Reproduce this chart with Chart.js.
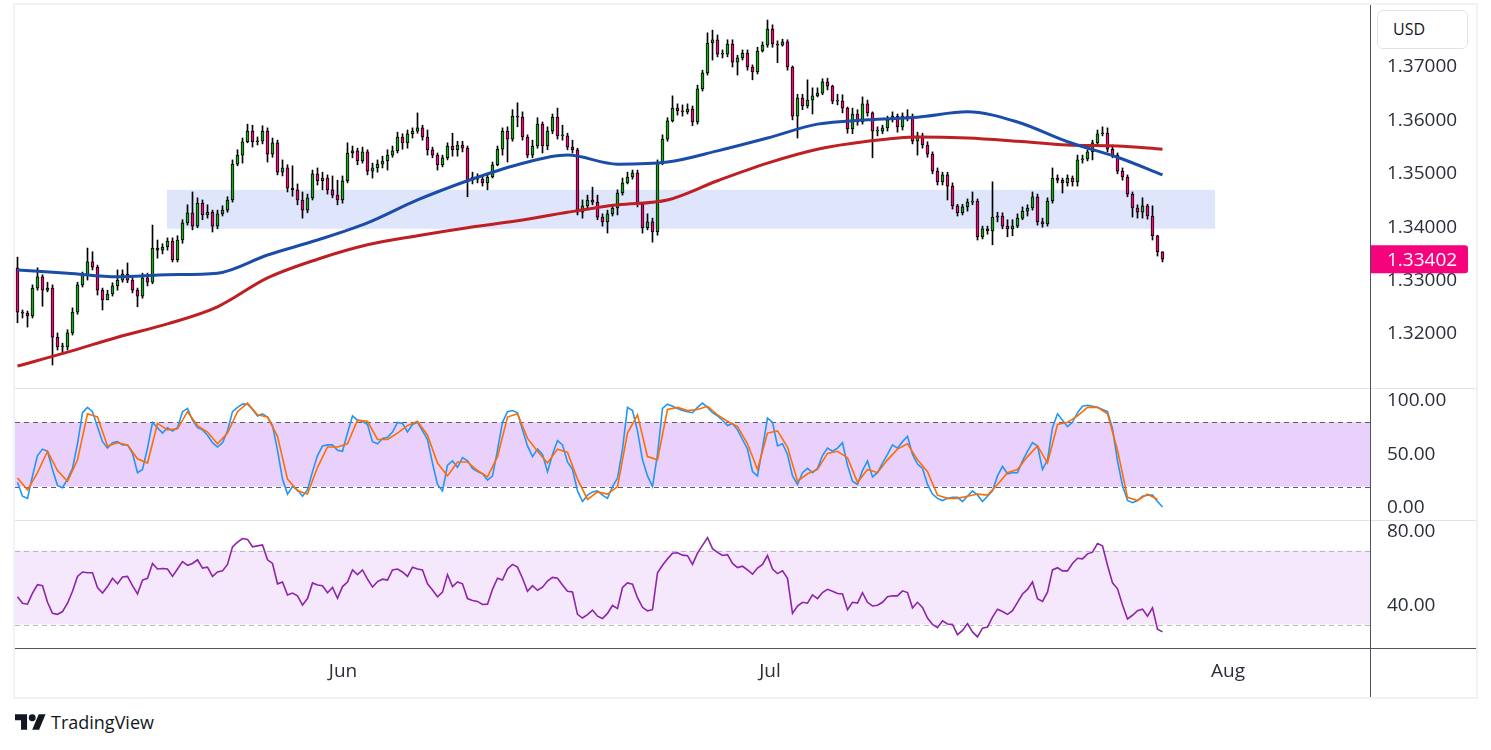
<!DOCTYPE html>
<html>
<head>
<meta charset="utf-8">
<title>GBPUSD 4H</title>
<script src="https://cdn.jsdelivr.net/npm/chart.js@4.4.1/dist/chart.umd.min.js"></script>
<style>
  html, body { margin: 0; padding: 0; background: #ffffff; }
  body { position: relative; width: 1491px; height: 750px; overflow: hidden; font-family: "Open Sans", sans-serif; color: #131722; }
  .frame { position: absolute; left: 13px; top: 3px; width: 1465px; height: 696px; border: 2px solid #f0f2f5; box-sizing: border-box; }
  .pane { position: absolute; left: 15px; width: 1461px; }
  .line { position: absolute; }
  #usd { position: absolute; left: 1377px; top: 10px; width: 91px; height: 39px; box-sizing: border-box; border: 1px solid #e0e3eb; border-radius: 6px; font-size: 16px; line-height: 37px; padding-left: 15px; background: #fff; }
  #brand { position: absolute; left: 15px; top: 709px; display: flex; align-items: center; gap: 5px; font-size: 18px; line-height: 26px; }
</style>
</head>
<body>
<div class="frame"></div>
<div class="pane" style="top:5px;height:383px"><canvas id="price"></canvas></div>
<div class="pane" style="top:388px;height:132px"><canvas id="stoch"></canvas></div>
<div class="pane" style="top:520px;height:177px"><canvas id="rsi"></canvas></div>
<div class="line" style="left:15px;top:388px;width:1461px;height:1px;background:#e0e3eb"></div>
<div class="line" style="left:15px;top:520px;width:1461px;height:1px;background:#e0e3eb"></div>
<div class="line" style="left:15px;top:648px;width:1461px;height:1px;background:#50535e"></div>
<div class="line" style="left:1370px;top:5px;width:1px;height:692px;background:#50535e"></div>
<div id="usd">USD</div>
<div id="brand">
  <svg width="31" height="16" viewBox="0 4 36 18"><path d="M14 22H7V11H0V4h14v18z" fill="#131722"/><circle cx="20" cy="8" r="4" fill="#131722"/><path d="M28 22h-8l7.5-18h8L28 22z" fill="#131722"/></svg>
  <span>TradingView</span>
</div>
<script>
// GBPUSD, one bar per ~5px
const firstOpen = 1.3324;
const closes = [
  1.3241,1.3239,1.3234,1.3286,1.3307,1.3282,1.3286,1.3194,1.3176,1.3176,
  1.3202,1.3241,1.3292,1.3311,1.3335,1.3325,1.3282,1.3264,1.3275,1.3290,
  1.3301,1.3312,1.3301,1.3282,1.3271,1.3305,1.3297,1.3361,1.3357,1.3363,
  1.3374,1.3339,1.3376,1.3408,1.3427,1.3402,1.3445,1.3423,1.3428,1.3402,
  1.3425,1.3432,1.3451,1.3518,1.3535,1.3560,1.3580,1.3560,1.3561,1.3580,
  1.3537,1.3558,1.3503,1.3511,1.3473,1.3470,1.3451,1.3432,1.3455,1.3500,
  1.3487,1.3492,1.3470,1.3460,1.3451,1.3487,1.3539,1.3543,1.3524,1.3541,
  1.3505,1.3511,1.3518,1.3524,1.3535,1.3543,1.3569,1.3558,1.3575,1.3580,
  1.3586,1.3569,1.3545,1.3535,1.3517,1.3530,1.3552,1.3545,1.3554,1.3548,
  1.3488,1.3494,1.3490,1.3483,1.3494,1.3517,1.3546,1.3580,1.3565,1.3608,
  1.3606,1.3569,1.3535,1.3552,1.3593,1.3552,1.3580,1.3606,1.3571,1.3571,
  1.3550,1.3545,1.3428,1.3440,1.3451,1.3447,1.3419,1.3410,1.3425,1.3436,
  1.3464,1.3483,1.3494,1.3502,1.3443,1.3399,1.3410,1.3391,1.3520,1.3565,
  1.3599,1.3623,1.3618,1.3616,1.3621,1.3597,1.3659,1.3689,1.3745,1.3751,
  1.3724,1.3724,1.3743,1.3709,1.3717,1.3726,1.3700,1.3691,1.3730,1.3741,
  1.3771,1.3743,1.3741,1.3747,1.3700,1.3608,1.3642,1.3627,1.3638,1.3646,
  1.3651,1.3672,1.3664,1.3636,1.3636,1.3623,1.3584,1.3612,1.3597,1.3631,
  1.3614,1.3580,1.3580,1.3586,1.3601,1.3608,1.3588,1.3608,1.3606,1.3561,
  1.3571,1.3554,1.3537,1.3505,1.3485,1.3498,1.3477,1.3440,1.3427,1.3438,
  1.3447,1.3449,1.3382,1.3397,1.3393,1.3419,1.3421,1.3402,1.3397,1.3402,
  1.3417,1.3430,1.3436,1.3457,1.3410,1.3406,1.3449,1.3492,1.3488,1.3483,
  1.3492,1.3485,1.3526,1.3528,1.3541,1.3558,1.3575,1.3576,1.3546,1.3535,
  1.3505,1.3494,1.3462,1.3436,1.3428,1.3440,1.3421,1.3384,1.3354,1.33402
];
const highs = [
  1.3344,1.3245,1.3243,1.3292,1.3324,1.3311,1.3297,1.3292,1.3202,1.3183,
  1.3208,1.3249,1.3297,1.3316,1.3361,1.3354,1.3329,1.3286,1.3282,1.3296,
  1.3320,1.3320,1.3333,1.3305,1.3286,1.3314,1.3314,1.3404,1.3376,1.3369,
  1.3380,1.3380,1.3384,1.3414,1.3442,1.3466,1.3455,1.3451,1.3442,1.3432,
  1.3432,1.3440,1.3457,1.3526,1.3545,1.3567,1.3593,1.3591,1.3569,1.3590,
  1.3586,1.3567,1.3563,1.3526,1.3517,1.3515,1.3481,1.3466,1.3462,1.3507,
  1.3511,1.3503,1.3498,1.3496,1.3488,1.3496,1.3558,1.3552,1.3548,1.3550,
  1.3545,1.3520,1.3526,1.3533,1.3545,1.3552,1.3578,1.3575,1.3582,1.3586,
  1.3614,1.3591,1.3582,1.3550,1.3539,1.3535,1.3558,1.3576,1.3561,1.3561,
  1.3552,1.3503,1.3500,1.3496,1.3500,1.3522,1.3552,1.3586,1.3588,1.3620,
  1.3633,1.3616,1.3573,1.3563,1.3605,1.3597,1.3588,1.3612,1.3623,1.3591,
  1.3576,1.3563,1.3548,1.3451,1.3460,1.3475,1.3460,1.3425,1.3432,1.3443,
  1.3470,1.3492,1.3503,1.3507,1.3507,1.3445,1.3425,1.3417,1.3526,1.3573,
  1.3605,1.3646,1.3631,1.3629,1.3631,1.3627,1.3666,1.3694,1.3764,1.3769,
  1.3760,1.3732,1.3751,1.3751,1.3722,1.3732,1.3732,1.3704,1.3737,1.3747,
  1.3788,1.3779,1.3749,1.3752,1.3751,1.3702,1.3649,1.3649,1.3676,1.3661,
  1.3661,1.3678,1.3679,1.3666,1.3649,1.3648,1.3625,1.3623,1.3620,1.3644,
  1.3638,1.3616,1.3588,1.3591,1.3608,1.3616,1.3612,1.3614,1.3620,1.3612,
  1.3578,1.3576,1.3560,1.3541,1.3511,1.3503,1.3503,1.3483,1.3443,1.3443,
  1.3453,1.3466,1.3453,1.3402,1.3402,1.3485,1.3428,1.3427,1.3414,1.3414,
  1.3425,1.3438,1.3442,1.3466,1.3462,1.3417,1.3455,1.3511,1.3498,1.3492,
  1.3498,1.3496,1.3535,1.3535,1.3545,1.3563,1.3582,1.3588,1.3586,1.3554,
  1.3539,1.3511,1.3498,1.3466,1.3442,1.3455,1.3443,1.3440,1.3385,1.3354
];
const lows = [
  1.3221,1.3230,1.3213,1.3230,1.3282,1.3252,1.3279,1.3142,1.3170,1.3164,
  1.3170,1.3198,1.3237,1.3288,1.3301,1.3320,1.3273,1.3245,1.3264,1.3271,
  1.3282,1.3297,1.3296,1.3277,1.3251,1.3267,1.3290,1.3294,1.3342,1.3350,
  1.3357,1.3335,1.3335,1.3370,1.3404,1.3395,1.3399,1.3414,1.3417,1.3391,
  1.3397,1.3421,1.3428,1.3447,1.3515,1.3520,1.3558,1.3550,1.3554,1.3556,
  1.3522,1.3531,1.3498,1.3496,1.3466,1.3458,1.3442,1.3417,1.3427,1.3451,
  1.3479,1.3470,1.3462,1.3455,1.3442,1.3445,1.3483,1.3530,1.3517,1.3520,
  1.3498,1.3492,1.3503,1.3511,1.3507,1.3531,1.3539,1.3546,1.3548,1.3567,
  1.3576,1.3563,1.3535,1.3530,1.3507,1.3513,1.3526,1.3533,1.3533,1.3541,
  1.3457,1.3481,1.3483,1.3477,1.3470,1.3492,1.3515,1.3535,1.3522,1.3561,
  1.3588,1.3563,1.3530,1.3530,1.3548,1.3539,1.3545,1.3575,1.3565,1.3563,
  1.3545,1.3539,1.3423,1.3417,1.3436,1.3442,1.3414,1.3402,1.3389,1.3421,
  1.3423,1.3460,1.3481,1.3490,1.3438,1.3389,1.3395,1.3372,1.3385,1.3517,
  1.3561,1.3597,1.3610,1.3608,1.3612,1.3590,1.3593,1.3655,1.3685,1.3713,
  1.3719,1.3717,1.3719,1.3700,1.3685,1.3713,1.3694,1.3676,1.3687,1.3728,
  1.3737,1.3737,1.3708,1.3739,1.3694,1.3601,1.3567,1.3620,1.3623,1.3612,
  1.3644,1.3648,1.3657,1.3631,1.3629,1.3614,1.3576,1.3575,1.3591,1.3593,
  1.3608,1.3530,1.3571,1.3575,1.3580,1.3597,1.3578,1.3582,1.3599,1.3556,
  1.3535,1.3548,1.3531,1.3500,1.3479,1.3479,1.3451,1.3434,1.3421,1.3423,
  1.3430,1.3442,1.3376,1.3378,1.3387,1.3367,1.3410,1.3397,1.3382,1.3384,
  1.3399,1.3414,1.3421,1.3432,1.3404,1.3400,1.3402,1.3445,1.3483,1.3464,
  1.3477,1.3477,1.3477,1.3520,1.3524,1.3526,1.3554,1.3571,1.3541,1.3530,
  1.3500,1.3488,1.3457,1.3419,1.3417,1.3417,1.3415,1.3376,1.3346,1.3335
];

// moving averages, sampled every 10 bars
const maBars = [0,10,20,30,40,50,60,70,80,90,100,110,120,130,140,150,160,170,180,190,200,210,220,229];
const maBlue = [1.3320,1.3314,1.3307,1.3311,1.3314,1.3348,1.3376,1.3408,1.3451,1.3487,1.3517,1.3535,
                1.3518,1.3522,1.3543,1.3567,1.3593,1.3601,1.3606,1.3616,1.3597,1.3560,1.3531,1.3498];
const maRed  = [1.3140,1.3166,1.3194,1.3219,1.3251,1.3305,1.3340,1.3367,1.3384,1.3399,1.3412,1.3428,
                1.3442,1.3451,1.3487,1.3520,1.3546,1.3561,1.3569,1.3567,1.3561,1.3554,1.3552,1.3546];

const zoneBars = [29.9, 239.5];
const zonePrices = [1.3397, 1.3470];

// stochastic %K every bar, %D every 2nd bar
const stochK = [
  24,11,9,30,49,55,53,36,21,19, 27,37,60,89,94,90,76,62,56,61,
  62,59,59,51,33,36,56,80,75,70, 75,72,75,90,93,82,75,73,68,61,
  57,61,72,90,94,97,97,92,86,88, 85,77,54,27,13,20,17,11,17,34,
  49,58,59,59,54,53,70,86,82,81, 78,62,60,65,66,71,80,79,71,78,
  80,72,64,42,22,16,40,44,38,47, 44,37,34,32,26,30,54,80,90,91,
  89,73,58,48,55,50,34,50,63,59, 43,36,16,6,12,15,16,12,9,20,
  28,55,94,91,72,45,30,20,50,93, 97,95,93,91,90,89,94,98,94,89,
  86,82,77,79,73,64,55,34,30,56, 84,80,58,60,50,30,22,33,37,33,
  37,49,56,53,56,61,40,25,22,35, 44,29,33,42,50,59,56,62,67,50,
  41,37,22,13,9,7,9,10,10,6, 11,16,12,6,11,16,30,39,32,33,
  33,44,53,61,58,36,45,75,88,82, 76,80,89,95,96,95,94,92,90,74,
  44,21,7,5,7,11,12,12,6,1
];
const stochD = [
  28,17,33,53,35,25,45,88,85,58, 61,59,46,42,79,73,74,90,77,71,
  60,70,90,98,87,85,67,27,16,13, 38,57,57,60,82,81,64,64,70,77,
  81,68,42,30,43,43,35,29,48,85, 88,65,53,42,55,52,27,8,15,13,
  20,70,87,48,45,92,94,91,92,95, 87,81,76,60,36,70,72,57,25,32,
  36,51,53,47,24,36,33,45,55,60, 45,34,12,9,9,11,13,12,22,33,
  36,48,58,42,78,80,86,94,94,88, 54,10,7,13,8
];
const rsi = [
  45,41.5,41,47,51.5,51,42,36,35.5,37, 41.5,48,56,58.4,58,58,50,47,50.5,55,
  52,55.7,56,51,46.5,54,55,63,60,60.3, 60,56,60,64,62,63,65,60.5,61,56,
  58.4,59,62.5,72,74.5,76.5,76,72,72.5,73, 65,63,52,53,46,47,45.5,40.5,44,52.5,
  51.4,51,47.2,50,44.2,50.5,53,59.5,57,59.5, 54.5,50.3,53.2,54.5,54,59.5,60,58.4,56,61,
  60,59.5,52,48.7,45,47.5,57,50.5,53,52, 44,43,42.5,40.8,41,49,55,54,60,62.5,
  61,55,48,51,48.5,50.2,53.5,55.5,55,51.4, 48,47.6,35.5,33.5,35.3,37.8,34.5,33.2,36,40.3,
  38.6,50,52.5,51.8,44.5,39.3,37.4,38,58,62, 65.5,68.5,68.8,67.5,67.2,62.5,68.6,72.8,77,71,
  69,67.3,67.8,63,60.8,61.5,59.5,57.2,60.5,62.5, 67.3,60,57.5,59,55,36,40,42,41.5,46,
  44,47.3,49,48,46.8,46.5,38,42,41.6,47.2, 42,40,40.4,42,45,45.5,45.5,48.2,47.3,39,
  42,39.2,33.5,30,28.3,32,30.3,30,24.5,26.8, 30.5,26,23.3,28,28.6,34,38.3,37,35.5,37.5,
  42,46.5,49,53,44,42.5,47.5,59.5,60.7,59, 59,63,65.8,65.5,68.2,69.1,73.8,72.5,62,52.5,
  49.3,40.5,33,35,37.5,38.3,34.5,39,27.5,26
];

const stochBand = [20, 80];
const rsiBand = [30, 70];
const priceTicks = [1.32, 1.33, 1.34, 1.35, 1.36, 1.37];
const stochTicks = [0, 50, 100];
const rsiTicks = [40, 80];
const monthTicks = [65.1, 150.5, 242.1];
const monthLabels = ['Jun', 'Jul', 'Aug'];

const FONT = '"Open Sans", sans-serif';
const TEXT = '#2a2e39';
const xMin = -0.5, xMax = 270.5;

const opens = closes.map((c, i) => i === 0 ? firstOpen : closes[i - 1]);

function hiddenX() {
  return { type: 'linear', min: xMin, max: xMax, display: false, offset: false };
}

function rightAxis(min, max, ticks, digits) {
  return {
    type: 'linear', position: 'right', min: min, max: max,
    grid: { display: false, drawTicks: false },
    border: { display: false },
    afterBuildTicks: s => { s.ticks = ticks.map(v => ({ value: v })); },
    afterFit: s => { s.width = 106; s.paddingTop = 0; s.paddingBottom = 0; },
    ticks: {
      autoSkip: false, padding: 17, color: TEXT,
      font: { family: FONT, size: 19 },
      callback: v => Number(v).toFixed(digits)
    }
  };
}

const bandPlugin = {
  id: 'band',
  beforeDatasetsDraw(chart, args, opts) {
    if (!opts || !opts.levels) return;
    const { ctx, chartArea: a, scales: { y } } = chart;
    const yHi = y.getPixelForValue(opts.levels[1]);
    const yLo = y.getPixelForValue(opts.levels[0]);
    ctx.save();
    ctx.fillStyle = opts.fill;
    ctx.fillRect(a.left, yHi, a.right - a.left, yLo - yHi);
    ctx.setLineDash([5, 4]);
    ctx.strokeStyle = opts.line;
    ctx.lineWidth = 1;
    [yHi, yLo].forEach(py => {
      const p = Math.round(py) + 0.5;
      ctx.beginPath(); ctx.moveTo(a.left, p); ctx.lineTo(a.right, p); ctx.stroke();
    });
    ctx.restore();
  }
};

const zonePlugin = {
  id: 'zone',
  beforeDatasetsDraw(chart) {
    const { ctx, scales: { x, y } } = chart;
    const x0 = x.getPixelForValue(zoneBars[0]), x1 = x.getPixelForValue(zoneBars[1]);
    const y0 = y.getPixelForValue(zonePrices[1]), y1 = y.getPixelForValue(zonePrices[0]);
    ctx.save();
    ctx.fillStyle = '#dfe6fc';
    ctx.fillRect(x0, y0, x1 - x0, y1 - y0);
    ctx.restore();
  }
};

const lastPricePlugin = {
  id: 'lastPrice',
  afterDraw(chart) {
    const { ctx, chartArea: a, scales: { y } } = chart;
    const v = closes[closes.length - 1];
    const py = y.getPixelForValue(v);
    ctx.save();
    ctx.fillStyle = '#f5037d';
    ctx.beginPath();
    if (ctx.roundRect) ctx.roundRect(a.right, py - 14, 98, 28, [0, 3, 3, 0]);
    else ctx.rect(a.right, py - 14, 98, 28);
    ctx.fill();
    ctx.fillStyle = '#ffffff';
    ctx.font = '19px ' + FONT;
    ctx.textBaseline = 'middle';
    ctx.fillText(v.toFixed(5), a.right + 17, py + 1);
    ctx.restore();
  }
};

const common = {
  responsive: true,
  maintainAspectRatio: false,
  animation: false,
  events: [],
  layout: { padding: 0 },
  plugins: { legend: { display: false }, tooltip: { enabled: false } }
};

new Chart(document.getElementById('price'), {
  type: 'line',
  data: {
    datasets: [
      {
        type: 'line', data: maBars.map((b, k) => ({ x: b, y: maBlue[k] })),
        borderColor: '#1a4da8', borderWidth: 3, pointRadius: 0, cubicInterpolationMode: 'monotone'
      },
      {
        type: 'line', data: maBars.map((b, k) => ({ x: b, y: maRed[k] })),
        borderColor: '#bd1f23', borderWidth: 3, pointRadius: 0, cubicInterpolationMode: 'monotone'
      },
      {
        type: 'bar', data: closes.map((c, i) => ({ x: i, y: [opens[i], c] })),
        backgroundColor: closes.map((c, i) => c >= opens[i] ? '#1ca81c' : '#f2077c'),
        borderColor: '#000000', borderWidth: 1, borderSkipped: false,
        barThickness: 3, maxBarThickness: 3, grouped: false, minBarLength: 1
      },
      {
        type: 'bar', data: highs.map((h, i) => ({ x: i, y: [lows[i], h] })),
        backgroundColor: '#000000', borderWidth: 0,
        barThickness: 1, maxBarThickness: 1, grouped: false
      }
    ]
  },
  options: Object.assign({}, common, {
    scales: { x: hiddenX(), y: rightAxis(1.30989, 1.38161, priceTicks, 5) }
  }),
  plugins: [zonePlugin, lastPricePlugin]
});

new Chart(document.getElementById('stoch'), {
  type: 'line',
  data: {
    datasets: [
      {
        data: stochD.map((v, k) => ({ x: 2 * k, y: v })),
        borderColor: '#ff6d00', borderWidth: 1.6, pointRadius: 0, tension: 0
      },
      {
        data: stochK.map((v, i) => ({ x: i, y: v })),
        borderColor: '#2196f3', borderWidth: 1.6, pointRadius: 0, tension: 0
      }
    ]
  },
  options: Object.assign({}, common, {
    plugins: Object.assign({}, common.plugins, {
      band: { levels: stochBand, fill: '#ead1fc', line: '#5d606b' }
    }),
    scales: { x: hiddenX(), y: rightAxis(-11.2, 112.1, stochTicks, 2) }
  }),
  plugins: [bandPlugin]
});

new Chart(document.getElementById('rsi'), {
  type: 'line',
  data: {
    datasets: [
      {
        data: rsi.map((v, i) => ({ x: i, y: v })),
        borderColor: '#8e24aa', borderWidth: 1.6, pointRadius: 0, tension: 0
      }
    ]
  },
  options: Object.assign({}, common, {
    plugins: Object.assign({}, common.plugins, {
      band: { levels: rsiBand, fill: '#f5e8fd', line: '#b8b8be' }
    }),
    scales: {
      x: {
        type: 'linear', min: xMin, max: xMax, position: 'bottom', offset: false,
        grid: { display: false, drawTicks: false },
        border: { display: false },
        afterBuildTicks: s => { s.ticks = monthTicks.map(v => ({ value: v })); },
        afterFit: s => { s.height = 49; s.paddingLeft = 0; s.paddingRight = 0; },
        ticks: {
          autoSkip: false, maxRotation: 0, padding: 12, color: TEXT,
          font: { family: FONT, size: 19 },
          callback: (v, i) => monthLabels[i]
        }
      },
      y: rightAxis(17.3, 86.5, rsiTicks, 2)
    }
  }),
  plugins: [bandPlugin]
});
</script>
</body>
</html>
